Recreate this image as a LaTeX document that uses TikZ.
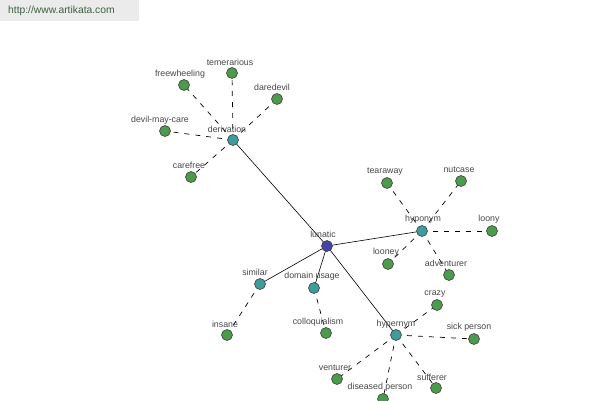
\documentclass[tikz,border=0pt]{standalone}
\usepackage{fontspec}
\setmainfont{Liberation Sans}
\definecolor{hubc}{HTML}{3E9C9C}
\definecolor{leafc}{HTML}{4C9A4C}
\definecolor{rootc}{HTML}{4444A8}
\definecolor{txt}{HTML}{484848}
\definecolor{wmbg}{HTML}{EBEBEB}
\definecolor{wmtxt}{HTML}{3F5F3F}
\tikzset{
  dot/.style={circle,draw=black!75,line width=0.6pt,minimum size=11pt,inner sep=0pt},
  root/.style={dot,fill=rootc},
  hub/.style={dot,fill=hubc},
  leaf/.style={dot,fill=leafc},
  lbl/.style={font=\fontsize{8.8}{9}\selectfont,text=txt,inner sep=0pt},
  solidedge/.style={draw=black,line width=0.6pt},
  dashedge/.style={draw=black,line width=0.7pt,dash pattern=on 5pt off 6pt},
}
\begin{document}
\begin{tikzpicture}[x=1pt,y=-1pt]
\useasboundingbox (0,0) rectangle (600,400);
\fill[white] (0,0) rectangle (600,400);
% watermark
\node[fill=wmbg,minimum width=139pt,minimum height=21pt,anchor=north west,inner sep=0pt] (wm) at (0,0) {};
\node[anchor=west,text=wmtxt,font=\fontsize{10.3}{11}\selectfont,inner sep=0pt] (wmt) at (8,11) {http://www.artikata.com};
% nodes
\coordinate (lunatic) at (327,246);
\coordinate (derivation) at (233,140);
\coordinate (hyponym) at (422,231);
\coordinate (similar) at (260,284);
\coordinate (domain) at (314,288);
\coordinate (hypernym) at (396,335);
\coordinate (temerarious) at (232,73);
\coordinate (freewheeling) at (184,85);
\coordinate (daredevil) at (277,99);
\coordinate (devil) at (165,131);
\coordinate (carefree) at (191,177);
\coordinate (tearaway) at (387,183);
\coordinate (nutcase) at (461,181);
\coordinate (loony) at (492,231);
\coordinate (looney) at (388,264);
\coordinate (adventurer) at (449,275);
\coordinate (crazy) at (437,305);
\coordinate (sick) at (474,339);
\coordinate (sufferer) at (436,388);
\coordinate (diseased) at (383,399);
\coordinate (venturer) at (337,379);
\coordinate (insane) at (227,335);
\coordinate (colloq) at (326,333);
% edges
\foreach \b in {derivation,hyponym,similar,domain,hypernym}
  \draw[solidedge] (lunatic) -- (\b);
\foreach \b in {temerarious,freewheeling,daredevil,devil,carefree}
  \draw[dashedge] (derivation) -- (\b);
\foreach \b in {tearaway,nutcase,loony,looney,adventurer}
  \draw[dashedge] (hyponym) -- (\b);
\foreach \b in {crazy,sick,sufferer,diseased,venturer}
  \draw[dashedge] (hypernym) -- (\b);
\draw[dashedge] (similar) -- (insane);
\draw[dashedge] (domain) -- (colloq);
% circles
\node[root] (nlunatic) at (lunatic) {};
\foreach \b in {derivation,hyponym,similar,domain,hypernym}
  \node[hub] (n\b) at (\b) {};
\foreach \b in {temerarious,freewheeling,daredevil,devil,carefree,tearaway,nutcase,loony,looney,adventurer,crazy,sick,sufferer,diseased,venturer,insane,colloq}
  \node[leaf] (n\b) at (\b) {};
% labels
\node[lbl] (l1) at (323,234) {lunatic};
\node[lbl] (l2) at (227,129) {derivation};
\node[lbl] (l3) at (423,219) {hyponym};
\node[lbl] (l4) at (255,272) {similar};
\node[lbl] (l5) at (312,276) {domain usage};
\node[lbl] (l6) at (396,324) {hypernym};
\node[lbl] (l7) at (230,62) {temerarious};
\node[lbl] (l8) at (180,74) {freewheeling};
\node[lbl] (l9) at (272,87) {daredevil};
\node[lbl] (l10) at (160,120) {devil-may-care};
\node[lbl] (l11) at (189,165) {carefree};
\node[lbl] (l12) at (385,172) {tearaway};
\node[lbl] (l13) at (459,170) {nutcase};
\node[lbl] (l14) at (489,219) {loony};
\node[lbl] (l15) at (386,252) {looney};
\node[lbl] (l16) at (446,263) {adventurer};
\node[lbl] (l17) at (435,294) {crazy};
\node[lbl] (l18) at (469,327) {sick person};
\node[lbl] (l19) at (432,377) {sufferer};
\node[lbl] (l20) at (380,387) {diseased person};
\node[lbl] (l21) at (335,368) {venturer};
\node[lbl] (l22) at (318,322) {colloquialism};
\node[lbl] (l23) at (225,324) {insane};
\end{tikzpicture}
\end{document}
